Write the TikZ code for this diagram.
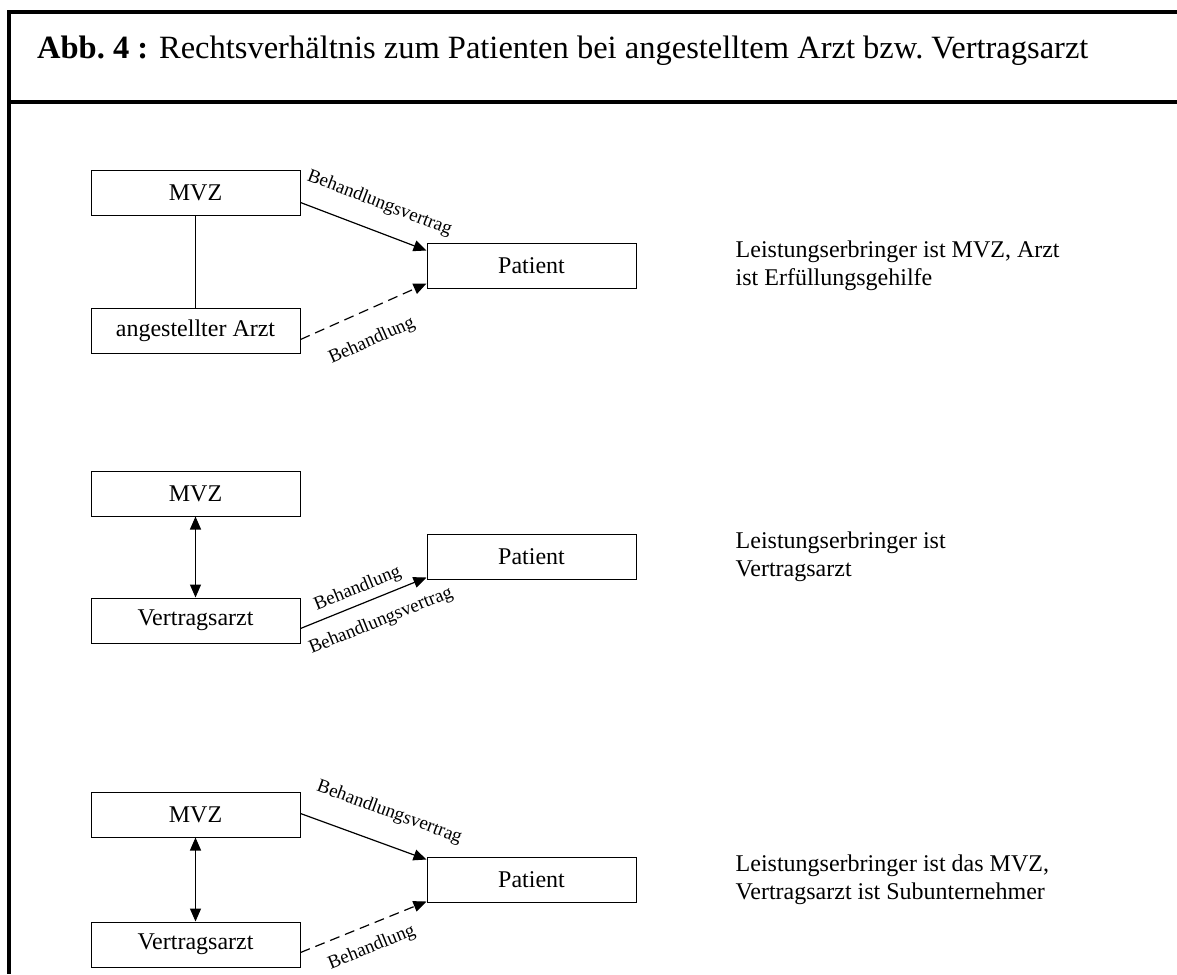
\documentclass[tikz,border=0pt]{standalone}
\usepackage{fontspec}
\setmainfont{Liberation Serif}
\usetikzlibrary{calc}
\usetikzlibrary{positioning}
\usetikzlibrary{arrows.meta}

\begin{document}
\begin{tikzpicture}[x=1pt,y=-1pt,
    box/.style={draw,line width=1pt,minimum width=209pt,minimum height=45pt,inner sep=0pt,font=\fontsize{24}{28}\selectfont},
    con/.style={line width=1.2pt,-{Triangle[length=13pt,width=11pt]}},
    dcon/.style={con,dash pattern=on 10pt off 6pt},
    lbl/.style={font=\fontsize{19}{22}\selectfont,sloped,inner sep=17pt},
    note/.style={align=left,inner sep=0pt,font=\fontsize{24}{28}\selectfont}]
                \useasboundingbox (0,0) rectangle (1177,974);

                \coordinate (TL) at (9,12);
                \coordinate (TR) at (1177,12);
                \coordinate (SL) at (9,102);
                \coordinate (SR) at (1177,102);
                \coordinate (BL) at (9,974);

                \draw[line width=4pt,line join=miter] (TR)--(TL)--(BL);
                \draw[line width=4pt] (SL)--(SR);

                \node[anchor=base west,inner sep=0pt,font=\fontsize{32.5}{38}\selectfont] (T) at (37,59)
                    {\textbf{Abb.\ 4 :} Rechtsverhältnis zum Patienten bei angestelltem Arzt bzw.\ Vertragsarzt};

                \node[box] (M1) at (195.5,192.5) {MVZ};
                \node[box] (A1) at (195.5,330.5) {angestellter Arzt};
                \node[box] (P1) at (531.5,265.5) {Patient};
                \node[note,right=99pt of P1] (N1) {Leistungserbringer ist MVZ, Arzt\\ist Erfüllungsgehilfe};

                \draw[line width=1.2pt] (M1)--(A1);
                \draw[con] ($(M1.east)+(0,10)$)--($(P1.west)+(0,-15)$)
                    node[lbl,above,pos=0.55,inner sep=18pt] {Behandlungsvertrag};
                \draw[dcon] ($(A1.east)+(0,9)$)--($(P1.west)+(0,18)$)
                    node[lbl,below,pos=0.47,inner sep=21pt] {Behandlung};

                \node[box] (M2) at (195.5,493.5) {MVZ};
                \node[box] (V2) at (195.5,620.5) {Vertragsarzt};
                \node[box] (P2) at (531.5,556.5) {Patient};
                \node[note,right=99pt of P2] (N2) {Leistungserbringer ist\\Vertragsarzt};

                \draw[con,{Triangle[length=13pt,width=11pt]}-{Triangle[length=13pt,width=11pt]}] (M2)--(V2);
                \draw[con] ($(V2.east)+(0,8)$)--($(P2.south west)+(0,-2)$)
                    node[lbl,above,pos=0.5,inner sep=6pt] {Behandlung}
                    node[lbl,below,pos=0.57,inner sep=14pt] {Behandlungsvertrag};

                \node[box] (M3) at (195.5,814.5) {MVZ};
                \node[box] (V3) at (195.5,944.5) {Vertragsarzt};
                \node[box] (P3) at (531.5,879.5) {Patient};
                \node[note,right=99pt of P3] (N3) {Leistungserbringer ist das MVZ,\\Vertragsarzt ist Subunternehmer};

                \draw[con,{Triangle[length=13pt,width=11pt]}-{Triangle[length=13pt,width=11pt]}] (M3)--(V3);
                \draw[con] ($(M3.east)+(0,-1)$)--($(P3.north west)+(0,3)$)
                    node[lbl,above,pos=0.62,inner sep=22pt] {Behandlungsvertrag};
                \draw[dcon] ($(V3.east)+(0,8)$)--($(P3.south west)+(0,-1)$)
                    node[lbl,below,pos=0.5,inner sep=13pt] {Behandlung};
            \end{tikzpicture}
\end{document}
